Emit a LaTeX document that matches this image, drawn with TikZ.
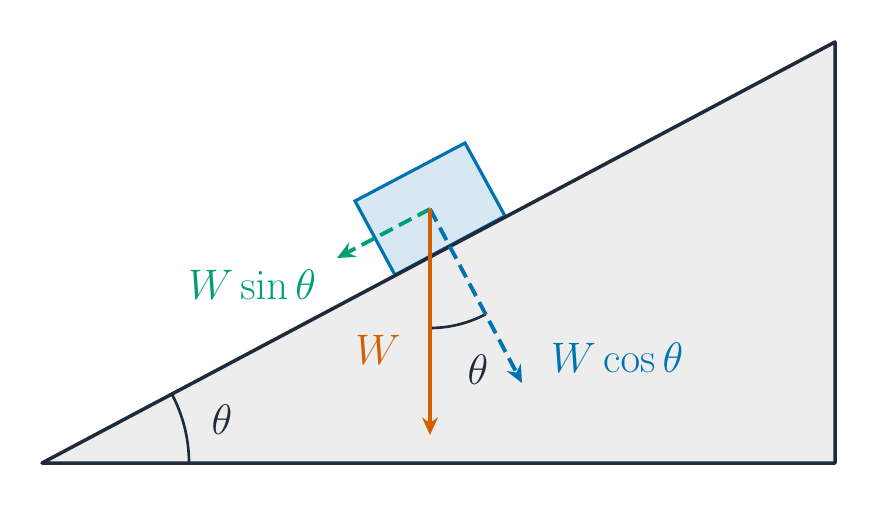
\documentclass[tikz,border=0pt]{standalone}
\usepackage{amsmath}
\usetikzlibrary{arrows.meta}
\definecolor{navy}{HTML}{1F2A3A}
\definecolor{wcol}{HTML}{D55E00}
\definecolor{scol}{HTML}{009E73}
\definecolor{ccol}{HTML}{0072B2}
\definecolor{blockfill}{HTML}{D8E8F3}
\definecolor{rampfill}{HTML}{EDEDED}
\tikzset{
  force/.style={line width=2.2pt, -{Stealth[length=10pt,width=9pt]}},
  dashforce/.style={force, dash pattern=on 8pt off 4pt},
  lbl/.style={font=\huge, scale=1.17, inner sep=0pt}
}
\begin{document}
\begin{tikzpicture}
        \useasboundingbox (0,0) rectangle (17.56,10.12);
        \coordinate (A) at (0.84, 0.86);
        \coordinate (B) at (16.7, 0.86);
        \coordinate (C) at (16.7, 9.28);
        \coordinate (P) at (7.9, 4.62);
        \coordinate (Q) at (10.1, 5.8);
        \coordinate (R) at (9.3, 7.26);
        \coordinate (S) at (7.1, 6.1);
        \coordinate (O) at (8.6, 5.94);
        \coordinate (Wend) at (8.6, 1.42);
        \coordinate (Cend) at (10.44, 2.46);
        \coordinate (Send) at (6.74, 4.96);
        \fill[rampfill] (A)--(B)--(C)--cycle;
        \draw[line width=1.8pt, ccol, fill=blockfill] (P)--(Q)--(R)--(S)--cycle;
        \draw[line width=2pt, navy, line join=round] (A)--(B)--(C)--cycle;
        % angle marks
        \draw[line width=1.5pt, navy] ([shift={(0:2.94)}]A) arc (0:28:2.94);
        \draw[line width=1.5pt, navy] ([shift={(-90:2.38)}]O) arc (-90:-62:2.38);
        % forces
        \draw[dashforce, scol] (O) -- (Send);
        \draw[dashforce, ccol] (O) -- (Cend);
        \draw[force, wcol] (O) -- (Wend);
        % labels
        \node[lbl, navy] (t1) at (4.44, 1.72) {$\theta$};
        \node[lbl, navy] (t2) at (9.56, 2.72) {$\theta$};
        \node[lbl, scol] (ls) at (5.04, 4.42) {$W\sin\theta$};
        \node[lbl, wcol] (lw) at (7.56, 3.12) {$W$};
        \node[lbl, ccol] (lc) at (12.34, 2.96) {$W\cos\theta$};
\end{tikzpicture}
\end{document}
